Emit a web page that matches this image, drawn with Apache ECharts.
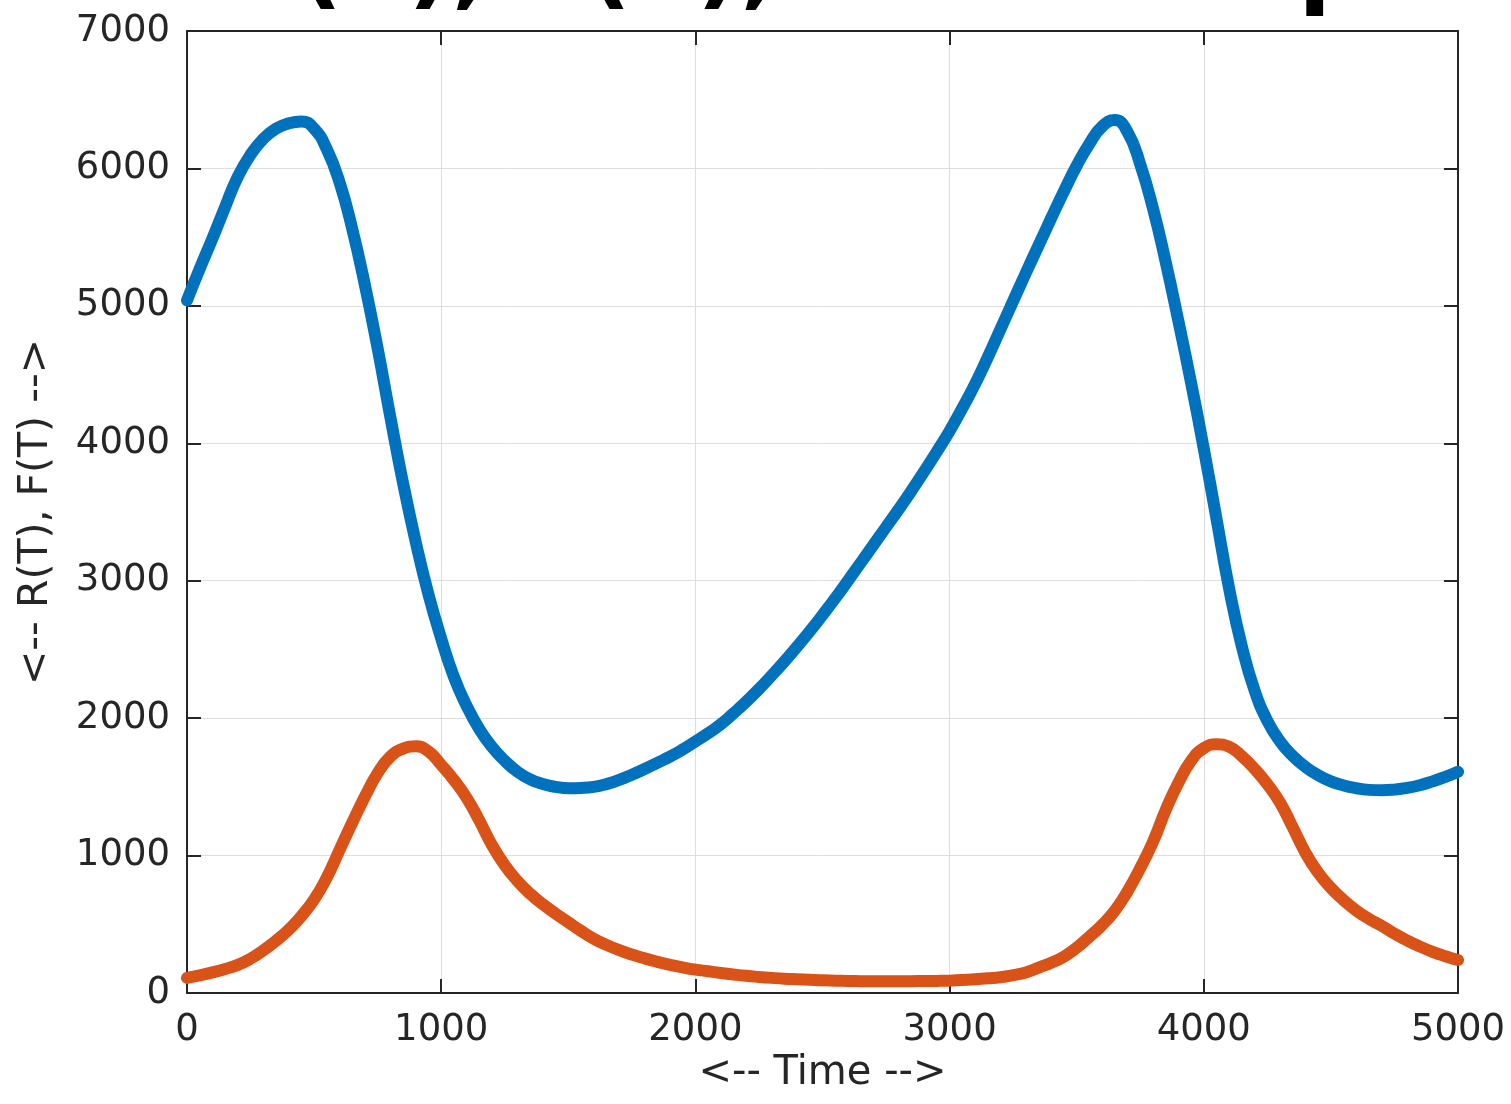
<!DOCTYPE html>
<html>
<head>
<meta charset="utf-8">
<script src="https://cdn.jsdelivr.net/npm/echarts@6/dist/echarts.min.js"></script>
<style>
html,body{margin:0;padding:0;background:#fff;}
#chart{width:1511px;height:1104px;}
</style>
</head>
<body>
<div id="chart"></div>
<script>
// sample times shared by both series
const times = [0, 50, 100, 150, 200, 250, 300, 350, 400, 450, 500, 550, 600, 650, 700, 750, 800, 850, 900, 950,
  1000, 1050, 1100, 1150, 1200, 1250, 1300, 1350, 1400, 1450, 1500, 1550, 1600, 1650, 1700, 1750, 1800, 1850, 1900, 1950,
  2000, 2050, 2100, 2150, 2200, 2250, 2300, 2350, 2400, 2450, 2500, 2550, 2600, 2650, 2700, 2750, 2800, 2850, 2900, 2950,
  3000, 3050, 3100, 3150, 3200, 3250, 3300, 3350, 3400, 3450, 3500, 3550, 3600, 3650, 3700, 3750, 3800, 3850, 3900, 3950,
  4000, 4050, 4100, 4150, 4200, 4250, 4300, 4350, 4400, 4450, 4500, 4550, 4600, 4650, 4700, 4750, 4800, 4850, 4900, 4950, 5000];
// R(T) (blue)
const rVals = [5040, 5270, 5490, 5720, 5940, 6100, 6215, 6290, 6328, 6342, 6290, 6140, 5900, 5560, 5150, 4690, 4190, 3710, 3280, 2900,
  2580, 2300, 2090, 1920, 1790, 1690, 1610, 1555, 1520, 1500, 1490, 1492, 1500, 1520, 1550, 1588, 1630, 1675, 1720, 1772,
  1830, 1890, 1955, 2035, 2120, 2212, 2310, 2412, 2520, 2632, 2750, 2872, 3000, 3130, 3260, 3390, 3520, 3655, 3795, 3940,
  4090, 4255, 4430, 4625, 4830, 5035, 5240, 5440, 5640, 5835, 6020, 6180, 6305, 6352, 6265, 6030, 5710, 5320, 4890, 4440,
  3960, 3450, 2940, 2520, 2200, 1980, 1830, 1725, 1645, 1585, 1540, 1510, 1490, 1478, 1475, 1480, 1492, 1512, 1540, 1572, 1610];
// F(T) (orange)
const fVals = [110, 128, 150, 175, 205, 250, 310, 380, 460, 560, 680, 840, 1040, 1240, 1430, 1600, 1720, 1778, 1795, 1758,
  1660, 1550, 1420, 1255, 1075, 930, 815, 722, 645, 578, 515, 452, 395, 350, 312, 280, 252, 227, 205, 186,
  170, 158, 146, 135, 125, 117, 110, 104, 100, 96, 92, 90, 88, 86, 85, 85, 85, 86, 87, 88,
  90, 94, 100, 107, 115, 130, 150, 185, 220, 265, 330, 410, 495, 600, 740, 910, 1100, 1330, 1530, 1690,
  1782, 1810, 1792, 1722, 1630, 1520, 1385, 1205, 1020, 875, 765, 675, 600, 540, 488, 432, 382, 338, 300, 268, 240];
const xTicks = [0, 1000, 2000, 3000, 4000, 5000];
const yTicks = [0, 1000, 2000, 3000, 4000, 5000, 6000, 7000];
const titleText = 'R(T), F(T), Time Graph';
const xName = '<-- Time -->';
const yName = '<-- R(T), F(T) -->';

const rData = times.map((t, i) => [t, rVals[i]]);
const fData = times.map((t, i) => [t, fVals[i]]);

const FONT = 'DejaVu Sans';
const TXT = '#262626';
const chart = echarts.init(document.getElementById('chart'), null, {renderer: 'canvas'});
const boxLine = {show: true, onZero: false, lineStyle: {color: TXT, width: 2}};
const tick = {show: true, inside: true, length: 14, lineStyle: {color: TXT, width: 2}};
chart.setOption({
  animation: false,
  backgroundColor: '#ffffff',
  graphic: [{
    type: 'text', x: 830, y: -29, z: 10,
    style: {text: titleText, font: 'bold 96px "DejaVu Sans"', fill: '#000', align: 'center', verticalAlign: 'middle'}
  }],
  grid: {left: 187, right: 53, top: 31, bottom: 111, containLabel: false},
  xAxis: [{
    type: 'value', min: 0, max: 5000, interval: 1000, position: 'bottom',
    name: xName, nameLocation: 'middle', nameGap: 58,
    nameTextStyle: {fontFamily: FONT, fontSize: 40, color: TXT, verticalAlign: 'top'},
    axisLine: boxLine, axisTick: tick,
    axisLabel: {fontFamily: FONT, fontSize: 37, color: TXT, margin: 19, formatter: v => xTicks.includes(v) ? String(v) : ''},
    splitLine: {show: true, lineStyle: {color: '#dedede', width: 1}}
  }, {
    type: 'value', min: 0, max: 5000, interval: 1000, position: 'top',
    axisLine: boxLine, axisTick: tick, axisLabel: {show: false}, splitLine: {show: false}
  }],
  yAxis: [{
    type: 'value', min: 0, max: 7000, interval: 1000, position: 'left',
    name: yName, nameLocation: 'middle', nameGap: 130, nameRotate: 90,
    nameTextStyle: {fontFamily: FONT, fontSize: 41, color: TXT},
    axisLine: boxLine, axisTick: tick,
    axisLabel: {fontFamily: FONT, fontSize: 37, color: TXT, margin: 17, formatter: v => yTicks.includes(v) ? String(v) : ''},
    splitLine: {show: true, lineStyle: {color: '#dedede', width: 1}}
  }, {
    type: 'value', min: 0, max: 7000, interval: 1000, position: 'right',
    axisLine: boxLine, axisTick: tick, axisLabel: {show: false}, splitLine: {show: false}
  }],
  series: [{
    name: 'R(T)', type: 'line', data: rData, smooth: 0.5, showSymbol: false, symbol: 'none',
    lineStyle: {color: '#0072BD', width: 12, cap: 'round', join: 'round'}, z: 3
  }, {
    name: 'F(T)', type: 'line', data: fData, smooth: 0.5, showSymbol: false, symbol: 'none',
    lineStyle: {color: '#D95319', width: 12, cap: 'round', join: 'round'}, z: 2
  }]
});
</script>
</body>
</html>
